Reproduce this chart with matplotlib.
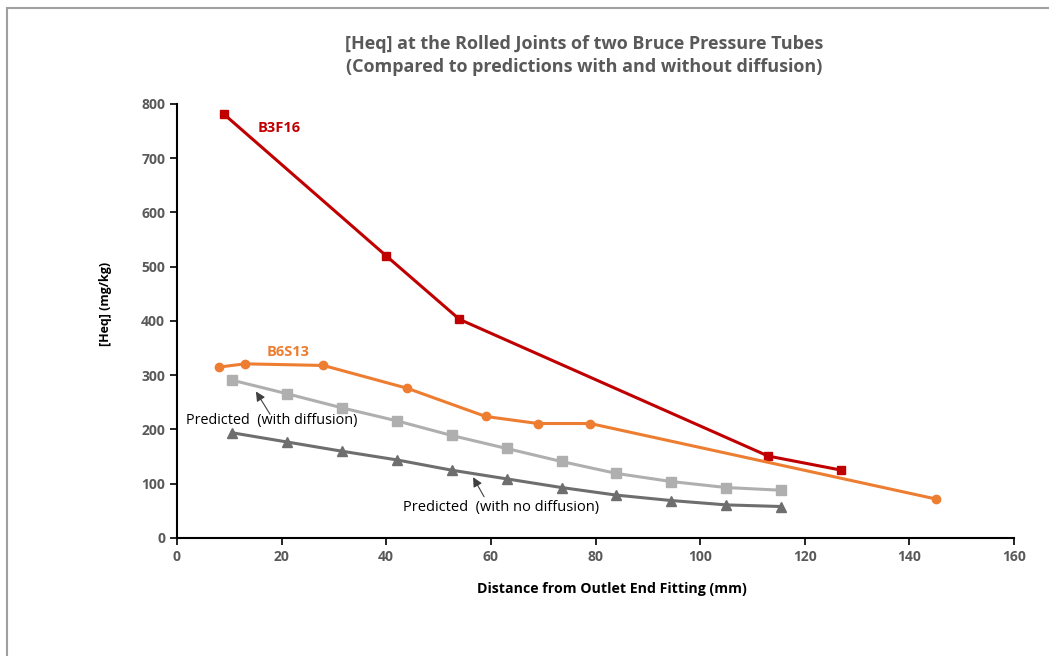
import numpy as np
import matplotlib
matplotlib.use('Agg')
import matplotlib.pyplot as plt
from matplotlib.patches import Rectangle

plt.rcParams['font.family'] = ['Open Sans', 'DejaVu Sans']

# data
b3f16_x = [9, 40, 54, 113, 127]
b3f16_y = [781, 520, 403, 151, 125]

b6s13_x = [8, 13, 28, 44, 59, 69, 79, 145]
b6s13_y = [315, 321, 318, 276, 224, 211, 211, 72]

pred_x = [10.5, 21, 31.5, 42, 52.5, 63, 73.5, 84, 94.5, 105, 115.5]
pred_diff_y = [291, 266, 240, 216, 189, 165, 141, 119, 104, 93, 88]
pred_nodiff_y = [194, 177, 160, 144, 125, 109, 93, 79, 69, 61, 58]

xticks = [0, 20, 40, 60, 80, 100, 120, 140, 160]
yticks = [0, 100, 200, 300, 400, 500, 600, 700, 800]


def main():
    fig = plt.figure(figsize=(10.49, 6.56), dpi=100)
    ax = fig.add_axes([0.1687, 0.1799, 0.7980, 0.6616])

    # thin grey frame around the chart area (only top/left visible)
    fig.patches.append(Rectangle((7 / 1049, -0.01), 1.1, 1 - 8 / 656 + 0.01,
                                 transform=fig.transFigure, fill=False,
                                 edgecolor='#A0A0A0', lw=1.5))

    ax.plot(b3f16_x, b3f16_y, color='#C00000', lw=2.2, marker='s', ms=6)
    ax.plot(b6s13_x, b6s13_y, color='#ED7D31', lw=2.2, marker='o', ms=6)
    ax.plot(pred_x, pred_diff_y, color='#AFAFAF', lw=2.2, marker='s', ms=7)
    ax.plot(pred_x, pred_nodiff_y, color='#6E6E6E', lw=2.2, marker='^', ms=7)

    ax.text(15.5, 756, 'B3F16', color='#C00000', fontsize=10.5,
            fontweight='bold', va='center')
    ax.text(17.2, 343, 'B6S13', color='#ED7D31', fontsize=10.5,
            fontweight='bold', va='center')

    ax.text(1.7, 216, 'Predicted  (with diffusion)', fontsize=10.4, va='center')
    ax.text(43.2, 57, 'Predicted  (with no diffusion)', fontsize=10.5, va='center')
    arrow = dict(arrowstyle='-|>', color='#404040', lw=0.8,
                 shrinkA=0, shrinkB=0, mutation_scale=14)
    ax.annotate('', xy=(15.1, 270), xytext=(17.8, 228), arrowprops=arrow)
    ax.annotate('', xy=(56.6, 112), xytext=(58.7, 76), arrowprops=arrow)

    ax.set_xlim(0, 160)
    ax.set_ylim(0, 800)
    ax.set_xticks(xticks)
    ax.set_yticks(yticks)
    ax.tick_params(direction='out', length=5, width=1.2, colors='black',
                   labelcolor='#595959', labelsize=10)
    for lab in ax.get_xticklabels() + ax.get_yticklabels():
        lab.set_fontweight('bold')
    ax.spines['top'].set_visible(False)
    ax.spines['right'].set_visible(False)
    ax.spines['left'].set_linewidth(1.5)
    ax.spines['bottom'].set_linewidth(1.5)

    ax.set_xlabel('Distance from Outlet End Fitting (mm)', fontsize=10.2,
                  fontweight='bold', labelpad=13)
    ax.xaxis.label.set_x(0.52)
    ax.set_ylabel('[Heq] (mg/kg)', fontsize=9, fontweight='bold', labelpad=21)
    ax.yaxis.label.set_y(0.54)

    fig.text(0.5567, 0.9154, '[Heq] at the Rolled Joints of two Bruce Pressure Tubes\n'
             '(Compared to predictions with and without diffusion)',
             ha='center', va='center', fontsize=13, fontweight='bold',
             color='#595959', linespacing=1.35)

    fig.savefig('out.png', dpi=100)


if __name__ == '__main__':
    main()
